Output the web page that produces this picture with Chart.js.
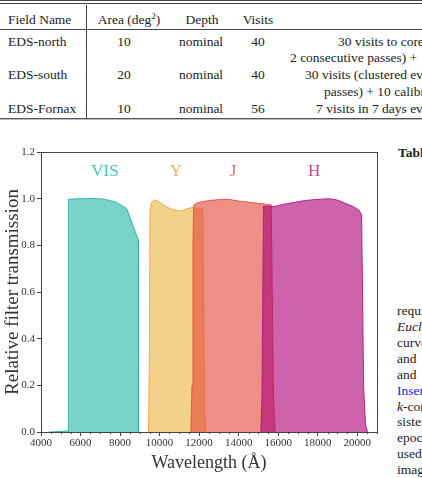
<!DOCTYPE html>
<html>
<head>
<meta charset="utf-8">
<script src="https://cdn.jsdelivr.net/npm/chart.js@4/dist/chart.umd.min.js"></script>
<style>
  html, body { margin:0; padding:0; background:#fff; }
  body { width:422px; height:478px; overflow:hidden; position:relative; font-family:'Liberation Serif', serif; color:#222; }
  .t { position:absolute; font-size:13.5px; line-height:16px; white-space:nowrap; }
  .c { text-align:center; width:100px; }
  .hl { position:absolute; left:0; width:422px; height:1px; background:#444; }
  .vl { position:absolute; width:1px; background:#444; }
  sup { font-size:9px; line-height:0; vertical-align:5px; }
  #wrap { position:absolute; left:0; top:140px; width:385px; height:338px; }
</style>
</head>
<body>
<!-- table fragment -->
<div class="hl" style="top:0px"></div>
<div class="hl" style="top:3px"></div>
<div class="vl" style="left:86px; top:5px; height:113px"></div>
<div class="hl" style="top:29px"></div>
<div class="hl" style="top:118px; background:#555"></div>
<div class="hl" style="top:119px; background:#bbb"></div>

<div class="t" style="left:8px; top:12px">Field Name</div>
<div class="t c" style="left:79px; top:12px">Area (deg<sup>2</sup>)</div>
<div class="t c" style="left:152px; top:12px">Depth</div>
<div class="t c" style="left:208px; top:12px">Visits</div>

<div class="t" style="left:8px; top:34px">EDS-north</div>
<div class="t c" style="left:74px; top:34px">10</div>
<div class="t c" style="left:151px; top:34px">nominal</div>
<div class="t c" style="left:208px; top:34px">40</div>
<div class="t" style="left:338px; top:34px">30 visits to core</div>
<div class="t" style="left:290px; top:50px">2 consecutive passes) +</div>

<div class="t" style="left:8px; top:67px">EDS-south</div>
<div class="t c" style="left:74px; top:67px">20</div>
<div class="t c" style="left:151px; top:67px">nominal</div>
<div class="t c" style="left:208px; top:67px">40</div>
<div class="t" style="left:305px; top:67px">30 visits (clustered every</div>
<div class="t" style="left:324px; top:84px">passes) + 10 calibration</div>

<div class="t" style="left:8px; top:101px">EDS-Fornax</div>
<div class="t c" style="left:74px; top:101px">10</div>
<div class="t c" style="left:151px; top:101px">nominal</div>
<div class="t c" style="left:208px; top:101px">56</div>
<div class="t" style="left:316px; top:101px">7 visits in 7 days every</div>

<!-- right column body text -->
<div class="t" style="left:398px; top:145px; font-weight:bold">Table</div>
<div class="t" style="left:397px; top:303px">required</div>
<div class="t" style="left:397px; top:319px; font-style:italic">Euclid</div>
<div class="t" style="left:397px; top:335px">curves</div>
<div class="t" style="left:397px; top:351px">and</div>
<div class="t" style="left:397px; top:367px">and</div>
<div class="t" style="left:397px; top:383px; color:#2020e0">Inserra</div>
<div class="t" style="left:397px; top:399px"><i>k</i>-correction</div>
<div class="t" style="left:397px; top:414px">sistent</div>
<div class="t" style="left:397px; top:430px">epochs</div>
<div class="t" style="left:397px; top:446px">used</div>
<div class="t" style="left:397px; top:462px">images</div>

<div id="wrap"><canvas id="chart" width="385" height="338"></canvas></div>

<script>
// ---- data ----
const filterNames = ['VIS', 'Y', 'J', 'H'];

const visWave  = [4400, 5370, 5385, 6000, 6800, 7200, 7800, 8330, 8925, 8935];
const visTrans = [0.0, 0.004, 0.997, 1.0, 1.0, 0.998, 0.985, 0.958, 0.823, 0.0];

const yWave  = [9440, 9480, 9515, 9600, 9750, 9900, 10100, 10350, 10600, 10850, 11050, 11250, 11450, 11650, 11850, 12050, 12180, 12230, 12280, 12330];
const yTrans = [0.0, 0.3, 0.95, 0.985, 0.995, 0.99, 0.978, 0.965, 0.955, 0.95, 0.948, 0.952, 0.958, 0.962, 0.96, 0.958, 0.955, 0.5, 0.08, 0.0];

const jWave  = [11580, 11640, 11690, 11720, 11900, 12200, 12600, 13000, 13500, 14000, 14500, 15000, 15400, 15650, 15700, 15760, 15850];
const jTrans = [0.0, 0.2, 0.8, 0.972, 0.982, 0.988, 0.993, 0.996, 0.997, 0.99, 0.985, 0.98, 0.976, 0.973, 0.6, 0.15, 0.0];

const hWave  = [15120, 15180, 15230, 15260, 15500, 15800, 16200, 16700, 17200, 17700, 18200, 18600, 19000, 19400, 19800, 20100, 20220, 20270, 20320, 20420, 20520];
const hTrans = [0.0, 0.15, 0.7, 0.968, 0.968, 0.966, 0.975, 0.982, 0.99, 0.995, 0.998, 1.0, 0.994, 0.98, 0.966, 0.95, 0.93, 0.6, 0.2, 0.03, 0.0];

// label anchor positions (wavelength, transmission) for the band names
const labelWave  = [7240, 10830, 13715, 17815];
const labelTrans = [1.118, 1.118, 1.118, 1.118];

const xTicks = [4000, 6000, 8000, 10000, 12000, 14000, 16000, 18000, 20000];
const yTicks = [0.0, 0.2, 0.4, 0.6, 0.8, 1.0, 1.2];
const xMinorStep = 500;

// ---- styles ----
const baseRGB  = ['39,182,166', '234,182,68', '228,75,58', '172,3,120'];
const edgeRGB  = ['40,175,160', '242,160,60', '225,80,62', '175,20,125'];
const labelCol = ['rgb(70,196,182)', 'rgb(242,176,92)', 'rgb(232,110,100)', 'rgb(192,72,158)'];
const SERIF = "'Liberation Serif', serif";

const waves = [visWave, yWave, jWave, hWave];
const trans = [visTrans, yTrans, jTrans, hTrans];

const datasets = filterNames.map((name, k) => ({
  label: name,
  data: waves[k].map((w, i) => ({ x: w, y: trans[k][i] })),
  fill: 'origin',
  backgroundColor: 'rgba(' + baseRGB[k] + ',0.62)',
  borderColor: 'rgba(' + edgeRGB[k] + ',0.9)',
  borderWidth: 1,
  pointRadius: 0,
  tension: 0,
  order: filterNames.length - k
}));

const framePlugin = {
  id: 'frame',
  afterDatasetsDraw(chart) {
    const { ctx, chartArea: a, scales } = chart;
    ctx.save();
    ctx.strokeStyle = '#444';
    ctx.lineWidth = 1;
    const xs = scales.x;
    for (let v = xs.min; v <= xs.max; v += xMinorStep) {
      if (xTicks.includes(v)) continue;
      const px = Math.round(xs.getPixelForValue(v)) + 0.5;
      ctx.beginPath();
      ctx.moveTo(px, a.bottom);
      ctx.lineTo(px, a.bottom + 2);
      ctx.stroke();
    }
    ctx.strokeRect(Math.round(a.left) + 0.5, Math.round(a.top) + 0.5,
                   Math.round(a.right - a.left), Math.round(a.bottom - a.top));
    ctx.font = '17px ' + SERIF;
    ctx.textAlign = 'center';
    ctx.textBaseline = 'middle';
    filterNames.forEach((n, k) => {
      ctx.fillStyle = labelCol[k];
      ctx.fillText(n, xs.getPixelForValue(labelWave[k]), scales.y.getPixelForValue(labelTrans[k]));
    });
    ctx.restore();
  }
};

new Chart(document.getElementById('chart'), {
  type: 'line',
  data: { datasets },
  plugins: [framePlugin],
  options: {
    animation: false,
    responsive: false,
    devicePixelRatio: 1,
    layout: { padding: { top: 12, right: 8, left: 0, bottom: 0 } },
    plugins: { legend: { display: false }, tooltip: { enabled: false } },
    scales: {
      x: {
        type: 'linear', min: 4000, max: 21000,
        afterFit: s => { s.height = 46; },
        afterBuildTicks: s => { s.ticks = xTicks.map(v => ({ value: v })); },
        grid: { drawOnChartArea: false, drawTicks: true, tickLength: 4, tickColor: '#444' },
        border: { display: false },
        ticks: { color: '#333', padding: 1, maxRotation: 0, autoSkip: false,
                 callback: v => String(v),
                 font: { family: SERIF, size: 11 } },
        title: { display: true, text: 'Wavelength (Å)', color: '#333',
                 font: { family: SERIF, size: 18 }, padding: { top: 0, bottom: 4 } }
      },
      y: {
        min: 0, max: 1.2,
        afterFit: s => { s.width = 41; },
        afterBuildTicks: s => { s.ticks = yTicks.map(v => ({ value: v })); },
        grid: { drawOnChartArea: false, drawTicks: true, tickLength: 4, tickColor: '#444' },
        border: { display: false },
        ticks: { color: '#333', padding: 2, callback: v => Number(v).toFixed(1),
                 font: { family: SERIF, size: 11 } },
        title: { display: true, text: 'Relative filter transmission', color: '#333',
                 font: { family: SERIF, size: 19 }, padding: { top: 2, bottom: 0 } }
      }
    }
  }
});
</script>
</body>
</html>
